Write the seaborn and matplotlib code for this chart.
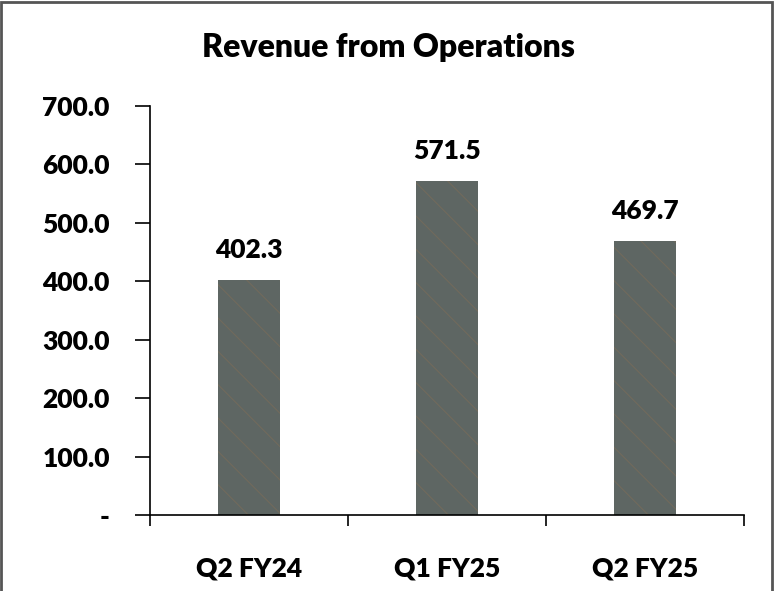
import matplotlib
matplotlib.use("Agg")
import matplotlib.pyplot as plt
import matplotlib.patches as mpatches
import pandas as pd
import seaborn as sns

quarters = ["Q2 FY24", "Q1 FY25", "Q2 FY25"]
revenue = [402.3, 571.5, 469.7]
y_ticks = [0, 100, 200, 300, 400, 500, 600, 700]
y_tick_labels = ["-", "100.0", "200.0", "300.0", "400.0", "500.0", "600.0", "700.0"]

sns.set_theme(style="white")
plt.rcParams["font.family"] = ["Lato", "DejaVu Sans"]
plt.rcParams["hatch.linewidth"] = 0.8
plt.rcParams["text.color"] = "black"
plt.rcParams["xtick.color"] = "black"
plt.rcParams["ytick.color"] = "black"

weight = "heavy"
df = pd.DataFrame({"quarter": quarters, "revenue": revenue})

fig = plt.figure(figsize=(7.74, 5.91), dpi=100)
ax = fig.add_axes([150 / 774, 1 - 515 / 591, (744 - 150) / 774, (515 - 106) / 591])

sns.barplot(data=df, x="quarter", y="revenue", ax=ax, width=0.31,
            color="#5e6663", saturation=1)
# faint streaks to hint at the textured fill of the original bars
for bar in ax.patches:
    bar.set_hatch("\\")
    bar.set_edgecolor("#716a5c")
    bar.set_linewidth(0)

for bar, val in zip(ax.patches, revenue):
    ax.annotate(f"{val:.1f}", (bar.get_x() + bar.get_width() / 2, val),
                xytext=(0, 13), textcoords="offset points",
                ha="center", va="bottom", fontsize=19, fontweight=weight, color="black")

ax.set_xlim(-0.5, 2.5)
ax.set_ylim(0, 700)
ax.set_yticks(y_ticks)
ax.set_yticklabels(y_tick_labels, fontsize=19, fontweight=weight)
ax.set_xticks([-0.5, 0.5, 1.5, 2.5], minor=True)
ax.set_xticks([0, 1, 2])
ax.set_xticklabels(quarters, fontsize=19, fontweight=weight)
ax.tick_params(axis="x", which="major", length=0, pad=30)
ax.tick_params(axis="x", which="minor", length=8, width=1.2, direction="out", color="black", bottom=True)
ax.tick_params(axis="y", length=11, width=1.2, direction="out", color="black", left=True, pad=18)
ax.set_xlabel("")
ax.set_ylabel("")

for side in ["top", "right"]:
    ax.spines[side].set_visible(False)
for side in ["left", "bottom"]:
    ax.spines[side].set_color("black")
    ax.spines[side].set_linewidth(1.2)

fig.text(388 / 774, 1 - 48 / 591, "Revenue from Operations", ha="center", va="center",
         fontsize=23, fontweight=weight)

fig.patches.append(mpatches.Rectangle((0.001, -0.01), 0.997, 1.006, transform=fig.transFigure,
                                      fill=False, edgecolor="#555555", linewidth=2))

plt.savefig("out.png", dpi=100)
